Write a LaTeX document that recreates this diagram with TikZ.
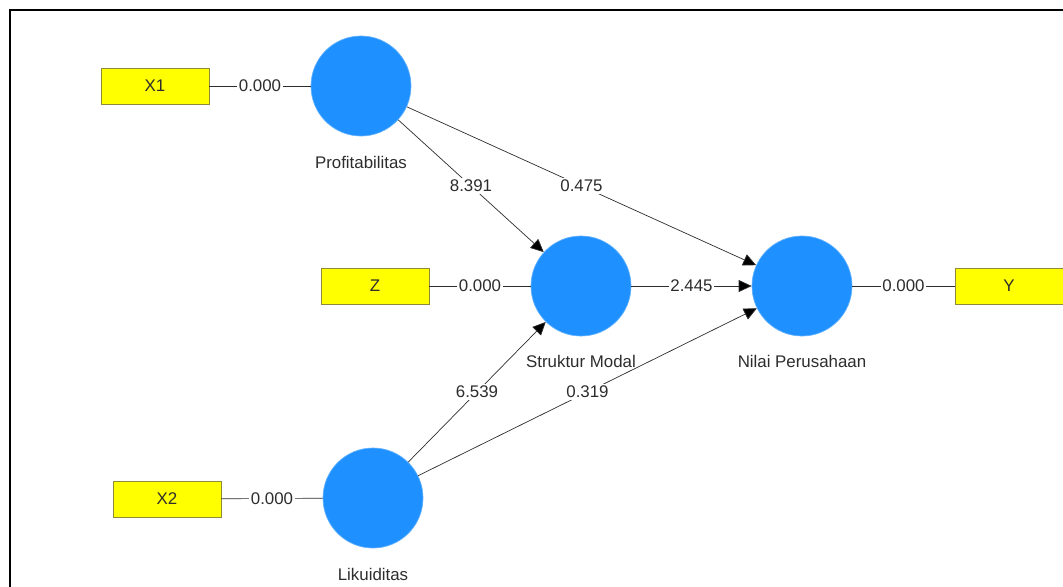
\documentclass[tikz,border=0pt]{standalone}
\usepackage{fontspec}
\setmainfont{Liberation Sans}
\usepackage{tikz}
\usetikzlibrary{arrows.meta,positioning}
\definecolor{latentblue}{RGB}{30,144,255}
\definecolor{indyellow}{RGB}{255,255,0}
\definecolor{txtgray}{RGB}{45,45,45}

\begin{document}
\begin{tikzpicture}[x=0.02cm,y=-0.02cm,
    font=\fontsize{9.6}{11}\selectfont,
    latent/.style={circle,fill=latentblue,draw=latentblue!70!white,minimum size=2cm,inner sep=0pt},
    indbox/.style={draw=olive!60!gray,fill=indyellow,minimum width=2.16cm,minimum height=0.72cm,text=txtgray},
    lvname/.style={text=txtgray},
    coef/.style={fill=white,inner sep=1pt,text=txtgray},
    load/.style={draw=txtgray,thin},
    path/.style={draw=txtgray,thin,-{Triangle[length=0.26cm,width=0.24cm,fill=black]}}
]
\useasboundingbox (0,0) rectangle (1063,586);
\clip (0,0) rectangle (1063,586);
\draw[line width=1.2pt] (10,600) -- (10,10) -- (1080,10);

% latent variables
\node[latent] (prof) at (361,86) {};
\node[latent] (sm) at (581,286) {};
\node[latent] (nilai) at (802,286) {};
\node[latent] (lik) at (373,498) {};

\node[lvname] (profT) at (361,162) {Profitabilitas};
\node[lvname] (smT) at (581,361) {Struktur Modal};
\node[lvname] (nilaiT) at (802,361) {Nilai Perusahaan};
\node[lvname] (likT) at (373,574) {Likuiditas};

% indicators
\node[indbox] (x1) at (155,86) {X1};
\node[indbox] (z) at (375,286) {Z};
\node[indbox] (x2) at (167,499) {X2};
\node[indbox] (y) at (1009,286) {Y};

% outer loadings
\draw[load] (x1) -- node[coef] {0.000} (prof);
\draw[load] (z) -- node[coef] {0.000} (sm);
\draw[load] (x2) -- node[coef] {0.000} (lik);
\draw[load] (nilai) -- node[coef] {0.000} (y);

% inner paths
\draw[path] (prof) -- node[coef] {8.391} (sm);
\draw[path] (prof) -- node[coef] {0.475} (nilai);
\draw[path] (sm) -- node[coef] {2.445} (nilai);
\draw[path] (lik) -- node[coef] {6.539} (sm);
\draw[path] (lik) -- node[coef] {0.319} (nilai);
\end{tikzpicture}
\end{document}
